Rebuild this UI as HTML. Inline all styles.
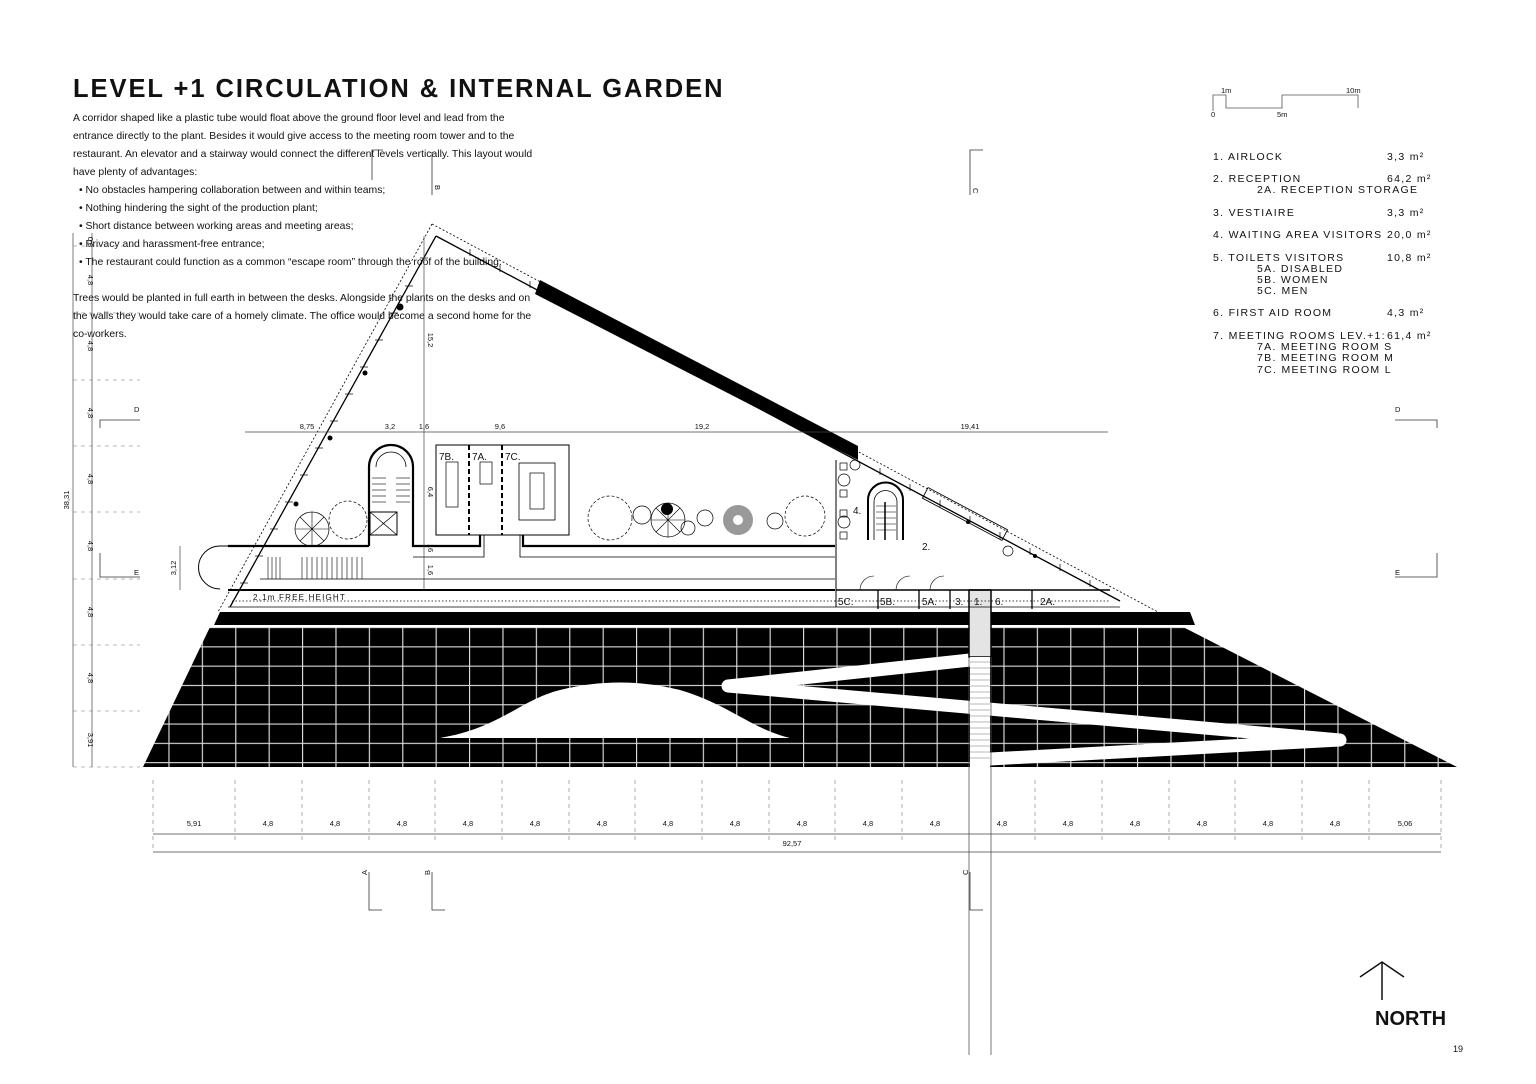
<!DOCTYPE html>
<html><head><meta charset="utf-8"><style>
html,body{margin:0;padding:0;background:#fff;}
svg{display:block;}
text{font-family:"Liberation Sans",sans-serif;fill:#111;}
.p{font-size:10.4px;}
.lg{font-size:10.5px;letter-spacing:1.3px;}
.d{font-size:7.5px;fill:#333;}
</style></head><body>
<svg width="1536" height="1084" viewBox="0 0 1536 1084" xmlns="http://www.w3.org/2000/svg">
<defs>
<pattern id="g" patternUnits="userSpaceOnUse" x="168.4" y="627" width="33.4" height="19.3">
<rect width="33.4" height="19.3" fill="#000"/>
<line x1="0.5" y1="0" x2="0.5" y2="19.3" stroke="#ddd" stroke-width="1.3"/>
<line x1="0" y1="0.5" x2="33.4" y2="0.5" stroke="#ddd" stroke-width="1.3"/>
</pattern>
</defs>

<text x="73" y="97" style="font-size:25.5px;font-weight:bold;letter-spacing:1.95px">LEVEL +1 CIRCULATION &amp; INTERNAL GARDEN</text>
<g class="p">
<text x="73" y="121">A corridor shaped like a plastic tube would float above the ground floor level and lead from the</text>
<text x="73" y="139">entrance directly to the plant. Besides it would give access to the meeting room tower and to the</text>
<text x="73" y="157">restaurant. An elevator and a stairway would connect the different levels vertically. This layout would</text>
<text x="73" y="175">have plenty of advantages:</text>
<text x="79" y="193">•  No obstacles hampering collaboration between and within teams;</text>
<text x="79" y="211">•  Nothing hindering the sight of the production plant;</text>
<text x="79" y="229">•  Short distance between working areas and meeting areas;</text>
<text x="79" y="247">•  Privacy and harassment-free entrance;</text>
<text x="79" y="265">•  The restaurant could function as a common “escape room” through the roof of the building.</text>
<text x="73" y="301">Trees would be planted in full earth in between the desks. Alongside the plants on the desks and on</text>
<text x="73" y="319">the walls they would take care of a homely climate. The office would become a second home for the</text>
<text x="73" y="337">co-workers.</text>
</g>

<g stroke="#555" fill="none" stroke-width="0.8">
<polyline points="1213,111 1213,95 1226,95 1226,108 1282,108 1282,95 1358,95 1358,108"/>
</g>
<g class="d"><text x="1221" y="93">1m</text><text x="1346" y="93">10m</text><text x="1211" y="117">0</text><text x="1277" y="117">5m</text></g>

<g class="lg">
<text x="1213" y="160">1. AIRLOCK</text><text x="1387" y="160">3,3 m²</text>
<text x="1213" y="182">2. RECEPTION</text><text x="1387" y="182">64,2 m²</text>
<text x="1257" y="193">2A. RECEPTION STORAGE</text>
<text x="1213" y="216">3. VESTIAIRE</text><text x="1387" y="216">3,3 m²</text>
<text x="1213" y="238">4. WAITING AREA VISITORS</text><text x="1387" y="238">20,0 m²</text>
<text x="1213" y="261">5. TOILETS VISITORS</text><text x="1387" y="261">10,8 m²</text>
<text x="1257" y="272">5A. DISABLED</text>
<text x="1257" y="283">5B. WOMEN</text>
<text x="1257" y="294">5C. MEN</text>
<text x="1213" y="316">6. FIRST AID ROOM</text><text x="1387" y="316">4,3 m²</text>
<text x="1213" y="339">7. MEETING ROOMS LEV.+1:</text><text x="1387" y="339">61,4 m²</text>
<text x="1257" y="350">7A. MEETING ROOM S</text>
<text x="1257" y="361">7B. MEETING ROOM M</text>
<text x="1257" y="373">7C. MEETING ROOM L</text>
</g>

<polygon points="210,627 1183,627 1457,767 143,767" fill="url(#g)"/>
<polygon points="220,612 1190,612 1195,625 214,625" fill="#000"/>
<path d="M440,738 C500,728 520,700 560,690 C600,680 640,680 680,690 C730,705 750,728 790,738 Z" fill="#fff"/>
<polyline points="970,660 728,686 1340,740 990,759" fill="none" stroke="#fff" stroke-width="13" stroke-linejoin="round" stroke-linecap="round"/>

<rect x="969" y="590" width="22" height="67" fill="#e4e4e4" stroke="#000" stroke-width="1.5"/>
<rect x="970" y="657" width="20" height="110" fill="#fff"/>
<g stroke="#777" stroke-width="0.6">
<line x1="970" y1="662" x2="990" y2="662"/><line x1="970" y1="668" x2="990" y2="668"/><line x1="970" y1="674" x2="990" y2="674"/><line x1="970" y1="680" x2="990" y2="680"/><line x1="970" y1="686" x2="990" y2="686"/><line x1="970" y1="692" x2="990" y2="692"/><line x1="970" y1="698" x2="990" y2="698"/><line x1="970" y1="704" x2="990" y2="704"/><line x1="970" y1="710" x2="990" y2="710"/><line x1="970" y1="716" x2="990" y2="716"/><line x1="970" y1="722" x2="990" y2="722"/><line x1="970" y1="728" x2="990" y2="728"/><line x1="970" y1="734" x2="990" y2="734"/><line x1="970" y1="740" x2="990" y2="740"/><line x1="970" y1="746" x2="990" y2="746"/><line x1="970" y1="752" x2="990" y2="752"/><line x1="970" y1="758" x2="990" y2="758"/>
</g>
<line x1="969" y1="657" x2="969" y2="1055" stroke="#555" stroke-width="0.8"/>
<line x1="991" y1="657" x2="991" y2="1055" stroke="#555" stroke-width="0.8"/>

<g fill="none" stroke="#000">
<line x1="432" y1="224" x2="218" y2="612" stroke-dasharray="2,2" stroke-width="0.8"/>
<line x1="432" y1="224" x2="1158" y2="612" stroke-dasharray="2,2" stroke-width="0.8"/>
<line x1="436" y1="236" x2="230" y2="607" stroke-width="1.3"/>
<line x1="436" y1="236" x2="1120" y2="601" stroke-width="1.3"/>
</g>
<g stroke="#000" stroke-width="0.7">
<line x1="420" y1="258" x2="428" y2="258"/><line x1="405" y1="286" x2="413" y2="286"/><line x1="390" y1="313" x2="398" y2="313"/><line x1="375" y1="340" x2="383" y2="340"/><line x1="360" y1="367" x2="368" y2="367"/><line x1="345" y1="394" x2="353" y2="394"/><line x1="330" y1="421" x2="338" y2="421"/><line x1="315" y1="448" x2="323" y2="448"/><line x1="300" y1="475" x2="308" y2="475"/><line x1="285" y1="502" x2="293" y2="502"/><line x1="270" y1="529" x2="278" y2="529"/><line x1="255" y1="556" x2="263" y2="556"/><line x1="240" y1="583" x2="248" y2="583"/>
<line x1="470" y1="256" x2="470" y2="249"/><line x1="500" y1="272" x2="500" y2="265"/><line x1="530" y1="288" x2="530" y2="281"/><line x1="880" y1="475" x2="880" y2="468"/><line x1="910" y1="491" x2="910" y2="484"/><line x1="940" y1="507" x2="940" y2="500"/><line x1="970" y1="523" x2="970" y2="516"/><line x1="1000" y1="539" x2="1000" y2="532"/><line x1="1030" y1="555" x2="1030" y2="548"/><line x1="1060" y1="571" x2="1060" y2="564"/><line x1="1090" y1="587" x2="1090" y2="580"/>
</g>
<circle cx="400" cy="307" r="3.5"/><circle cx="365" cy="373" r="2.5"/><circle cx="330" cy="438" r="2.5"/><circle cx="296" cy="504" r="2.5"/><circle cx="968" cy="522" r="2"/><circle cx="1035" cy="556" r="2"/>
<polygon points="540,280 858,446 858,460 535,294" fill="#000"/>

<g fill="none" stroke="#000">
<path d="M260,546 L220,546 A21.5,21.5 0 0 0 220,589" stroke-width="1"/>
<line x1="228" y1="546" x2="369" y2="546" stroke-width="2.2"/>
<path d="M369,546 L369,467 A22,22 0 0 1 413,467 L413,546 L480,546 L480,535" stroke-width="2.2"/>
<path d="M376,467 A15,15 0 0 1 406,467" stroke-width="0.8"/>
<rect x="370" y="512" width="27" height="23" stroke-width="1"/>
<line x1="370" y1="512" x2="397" y2="535" stroke-width="0.7"/><line x1="397" y1="512" x2="370" y2="535" stroke-width="0.7"/>
<rect x="436" y="445" width="133" height="90" stroke-width="1"/>
<line x1="469" y1="445" x2="469" y2="535" stroke-width="2" stroke-dasharray="5,3"/>
<line x1="502" y1="445" x2="502" y2="535" stroke-width="2" stroke-dasharray="5,3"/>
<rect x="446" y="462" width="12" height="45" stroke-width="0.7"/>
<rect x="480" y="462" width="12" height="22" stroke-width="0.7"/>
<rect x="519" y="463" width="36" height="57" stroke-width="0.8"/>
<rect x="530" y="473" width="14" height="36" stroke-width="0.7"/>
<polyline points="523,535 523,546 835,546" stroke-width="2.2"/>
<polyline points="413,557 484,557 484,535" stroke-width="0.8"/>
<polyline points="520,535 520,557 835,557" stroke-width="0.8"/>
<line x1="260" y1="579" x2="835" y2="579" stroke-width="0.8"/>
<line x1="228" y1="590" x2="835" y2="590" stroke-width="2"/>
<line x1="232" y1="601" x2="1110" y2="601" stroke-width="0.7" stroke-dasharray="1.5,2"/>
<line x1="228" y1="607" x2="1120" y2="607" stroke-width="0.8"/>
<line x1="836" y1="460" x2="836" y2="607" stroke-width="1"/>
<path d="M868,540 L868,500 A17.5,17.5 0 0 1 903,500 L903,540" stroke-width="2"/>
<path d="M874,540 L874,502 A11.5,11.5 0 0 1 897,502 L897,540" stroke-width="0.8"/>
<line x1="885" y1="502" x2="885" y2="540" stroke-width="1.5"/>
<rect x="920" y="508" width="90" height="12" transform="rotate(28 965 514)" stroke-width="0.9"/>
<line x1="836" y1="590" x2="1110" y2="590" stroke-width="1.5"/>
<line x1="878" y1="590" x2="878" y2="609" stroke-width="1.3"/><line x1="919" y1="590" x2="919" y2="609" stroke-width="1.3"/><line x1="950" y1="590" x2="950" y2="609" stroke-width="1.3"/><line x1="1032" y1="590" x2="1032" y2="609" stroke-width="1.3"/>
<path d="M860,590 A14,14 0 0 1 874,576 M896,590 A14,14 0 0 1 910,576 M930,590 A14,14 0 0 1 944,576" stroke-width="0.6"/>
</g>
<g stroke="#000" stroke-width="0.6">
<line x1="268" y1="557" x2="268" y2="579"/><line x1="272" y1="557" x2="272" y2="579"/><line x1="276" y1="557" x2="276" y2="579"/><line x1="280" y1="557" x2="280" y2="579"/>
<line x1="302" y1="557" x2="302" y2="579"/><line x1="307" y1="557" x2="307" y2="579"/><line x1="312" y1="557" x2="312" y2="579"/><line x1="317" y1="557" x2="317" y2="579"/><line x1="322" y1="557" x2="322" y2="579"/><line x1="327" y1="557" x2="327" y2="579"/><line x1="332" y1="557" x2="332" y2="579"/><line x1="337" y1="557" x2="337" y2="579"/><line x1="342" y1="557" x2="342" y2="579"/><line x1="347" y1="557" x2="347" y2="579"/><line x1="352" y1="557" x2="352" y2="579"/><line x1="357" y1="557" x2="357" y2="579"/><line x1="362" y1="557" x2="362" y2="579"/>
<line x1="372" y1="478" x2="386" y2="478"/><line x1="372" y1="484" x2="386" y2="484"/><line x1="372" y1="490" x2="386" y2="490"/><line x1="372" y1="496" x2="386" y2="496"/><line x1="372" y1="502" x2="386" y2="502"/><line x1="396" y1="478" x2="410" y2="478"/><line x1="396" y1="484" x2="410" y2="484"/><line x1="396" y1="490" x2="410" y2="490"/><line x1="396" y1="496" x2="410" y2="496"/><line x1="396" y1="502" x2="410" y2="502"/>
<line x1="876" y1="506" x2="896" y2="506"/><line x1="876" y1="512" x2="896" y2="512"/><line x1="876" y1="518" x2="896" y2="518"/><line x1="876" y1="524" x2="896" y2="524"/><line x1="876" y1="530" x2="896" y2="530"/>
</g>
<g fill="none" stroke="#000" stroke-width="0.7">
<rect x="840" y="463" width="7" height="7"/><circle cx="844" cy="480" r="6"/><rect x="840" y="490" width="7" height="7"/><rect x="840" y="510" width="7" height="7"/><circle cx="844" cy="522" r="6"/><rect x="840" y="532" width="7" height="7"/>
</g>
<g fill="none" stroke="#000" stroke-width="0.7">
<circle cx="312" cy="529" r="17"/><circle cx="348" cy="520" r="19" stroke-dasharray="3,2"/>
<circle cx="610" cy="518" r="22" stroke-dasharray="3,2"/><circle cx="642" cy="515" r="9"/><circle cx="668" cy="520" r="17"/><circle cx="688" cy="528" r="7"/><circle cx="705" cy="518" r="8"/>
<circle cx="775" cy="521" r="8"/><circle cx="805" cy="516" r="20" stroke-dasharray="3,2"/>
<circle cx="855" cy="465" r="5"/><circle cx="1008" cy="551" r="5"/>
</g>
<g stroke="#000" stroke-width="0.6">
<line x1="295" y1="529" x2="329" y2="529"/><line x1="312" y1="512" x2="312" y2="546"/><line x1="300" y1="517" x2="324" y2="541"/><line x1="324" y1="517" x2="300" y2="541"/>
<line x1="651" y1="520" x2="685" y2="520"/><line x1="668" y1="503" x2="668" y2="537"/><line x1="656" y1="508" x2="680" y2="532"/><line x1="680" y1="508" x2="656" y2="532"/>
</g>
<circle cx="667" cy="509" r="6"/>
<circle cx="738" cy="520" r="15" fill="#999"/><circle cx="738" cy="520" r="5" fill="#fff"/>

<g style="font-size:10px">
<text x="439" y="460">7B.</text><text x="472" y="460">7A.</text><text x="505" y="460">7C.</text>
<text x="853" y="514">4.</text><text x="922" y="550">2.</text>
<text x="838" y="605">5C.</text><text x="880" y="605">5B.</text><text x="922" y="605">5A.</text><text x="955" y="605">3.</text><text x="974" y="605">1.</text><text x="995" y="605">6.</text><text x="1040" y="605">2A.</text>
<text x="253" y="600" style="font-size:8px;letter-spacing:1.2px">2,1m FREE HEIGHT</text>
</g>

<g stroke="#444" stroke-width="0.7" fill="none">
<line x1="73" y1="233" x2="73" y2="767"/><line x1="92" y1="233" x2="92" y2="767"/>
<line x1="180" y1="546" x2="180" y2="590"/>
<line x1="424" y1="236" x2="424" y2="590"/>
<line x1="245" y1="432" x2="1108" y2="432"/>
</g>
<g stroke="#777" stroke-width="0.6" stroke-dasharray="4,4">
<line x1="73" y1="246" x2="140" y2="246"/><line x1="73" y1="313" x2="140" y2="313"/><line x1="73" y1="380" x2="140" y2="380"/><line x1="73" y1="446" x2="140" y2="446"/><line x1="73" y1="512" x2="140" y2="512"/><line x1="73" y1="579" x2="140" y2="579"/><line x1="73" y1="645" x2="140" y2="645"/><line x1="73" y1="711" x2="140" y2="711"/><line x1="73" y1="767" x2="140" y2="767"/>
<line x1="153" y1="780" x2="153" y2="852"/><line x1="235" y1="780" x2="235" y2="840"/><line x1="302" y1="780" x2="302" y2="840"/><line x1="369" y1="780" x2="369" y2="840"/><line x1="435" y1="780" x2="435" y2="840"/><line x1="502" y1="780" x2="502" y2="840"/><line x1="569" y1="780" x2="569" y2="840"/><line x1="635" y1="780" x2="635" y2="840"/><line x1="702" y1="780" x2="702" y2="840"/><line x1="769" y1="780" x2="769" y2="840"/><line x1="835" y1="780" x2="835" y2="840"/><line x1="902" y1="780" x2="902" y2="840"/><line x1="969" y1="780" x2="969" y2="840"/><line x1="1035" y1="780" x2="1035" y2="840"/><line x1="1102" y1="780" x2="1102" y2="840"/><line x1="1169" y1="780" x2="1169" y2="840"/><line x1="1235" y1="780" x2="1235" y2="840"/><line x1="1302" y1="780" x2="1302" y2="840"/><line x1="1369" y1="780" x2="1369" y2="840"/><line x1="1441" y1="780" x2="1441" y2="852"/>
</g>
<g stroke="#444" stroke-width="0.7"><line x1="153" y1="834" x2="1441" y2="834"/><line x1="153" y1="852" x2="1441" y2="852"/></g>
<g class="d" text-anchor="middle">
<text x="194" y="826">5,91</text><text x="268" y="826">4,8</text><text x="335" y="826">4,8</text><text x="402" y="826">4,8</text><text x="468" y="826">4,8</text><text x="535" y="826">4,8</text><text x="602" y="826">4,8</text><text x="668" y="826">4,8</text><text x="735" y="826">4,8</text><text x="802" y="826">4,8</text><text x="868" y="826">4,8</text><text x="935" y="826">4,8</text><text x="1002" y="826">4,8</text><text x="1068" y="826">4,8</text><text x="1135" y="826">4,8</text><text x="1202" y="826">4,8</text><text x="1268" y="826">4,8</text><text x="1335" y="826">4,8</text><text x="1405" y="826">5,06</text>
<text x="792" y="846">92,57</text>
<text x="307" y="429">8,75</text><text x="390" y="429">3,2</text><text x="424" y="429">1,6</text><text x="500" y="429">9,6</text><text x="702" y="429">19,2</text><text x="970" y="429">19,41</text>
</g>
<g class="d" text-anchor="middle">
<text transform="translate(88,242) rotate(90)">0,8</text>
<text transform="translate(88,280) rotate(90)">4,8</text>
<text transform="translate(88,346) rotate(90)">4,8</text>
<text transform="translate(88,413) rotate(90)">4,8</text>
<text transform="translate(88,479) rotate(90)">4,8</text>
<text transform="translate(88,546) rotate(90)">4,8</text>
<text transform="translate(88,612) rotate(90)">4,8</text>
<text transform="translate(88,678) rotate(90)">4,8</text>
<text transform="translate(88,740) rotate(90)">3,91</text>
<text transform="translate(69,500) rotate(-90)">38,31</text>
<text transform="translate(176,568) rotate(-90)">3,12</text>
<text transform="translate(428,340) rotate(90)">15,2</text>
<text transform="translate(428,492) rotate(90)">6,4</text>
<text transform="translate(428,548) rotate(90)">16</text>
<text transform="translate(428,570) rotate(90)">1,6</text>
</g>

<g stroke="#333" stroke-width="0.8" fill="none">
<polyline points="372,180 372,150 383,150"/><polyline points="432,195 432,152"/>
<polyline points="970,195 970,150 983,150"/>
<polyline points="140,420 100,420 100,428"/><polyline points="1395,420 1437,420 1437,428"/>
<polyline points="140,577 100,577 100,553"/><polyline points="1395,577 1437,577 1437,553"/>
<polyline points="369,872 369,910 382,910"/><polyline points="432,872 432,910 445,910"/>
<polyline points="970,872 970,910 983,910"/>
</g>
<g stroke="#111" stroke-width="1.5" fill="none">
<polyline points="1382,1000 1382,963"/><polyline points="1360,977 1382,962 1404,977"/>
</g>
<g class="d">
<text x="134" y="412">D</text><text x="1395" y="412">D</text><text x="134" y="575">E</text><text x="1395" y="575">E</text>
<text transform="translate(435,185) rotate(90)">B</text>
<text transform="translate(973,188) rotate(90)">C</text>
<text transform="translate(367,875) rotate(-90)">A</text>
<text transform="translate(430,875) rotate(-90)">B</text>
<text transform="translate(968,875) rotate(-90)">C</text>
</g>

<text x="1375" y="1025" style="font-size:20px;font-weight:bold">NORTH</text>
<text x="1453" y="1052" style="font-size:9px">19</text>
</svg>
</body></html>
